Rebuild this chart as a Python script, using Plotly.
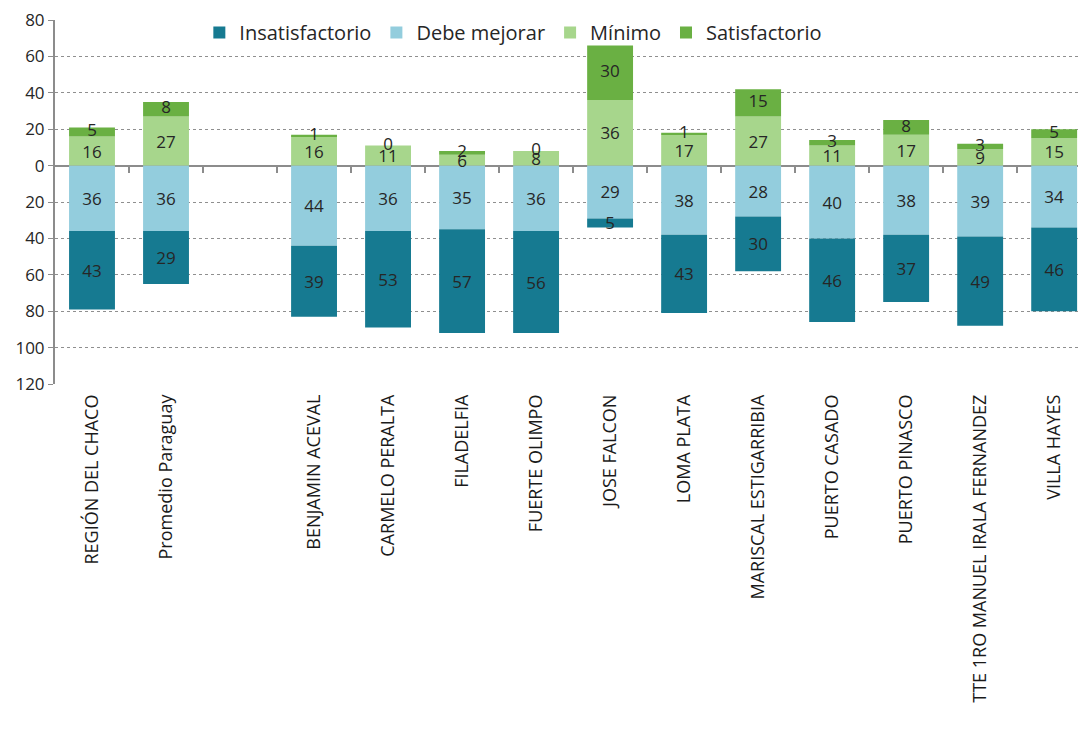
import plotly.graph_objects as go

categories = ["REGIÓN DEL CHACO", "Promedio Paraguay", " ", "BENJAMIN ACEVAL", "CARMELO PERALTA",
              "FILADELFIA", "FUERTE OLIMPO", "JOSE FALCON", "LOMA PLATA", "MARISCAL ESTIGARRIBIA",
              "PUERTO CASADO", "PUERTO PINASCO", "TTE 1RO MANUEL IRALA FERNANDEZ", "VILLA HAYES"]
insatisfactorio = [43, 29, None, 39, 53, 57, 56, 5, 43, 30, 46, 37, 49, 46]
debe_mejorar = [36, 36, None, 44, 36, 35, 36, 29, 38, 28, 40, 38, 39, 34]
minimo = [16, 27, None, 16, 11, 6, 8, 36, 17, 27, 11, 17, 9, 15]
satisfactorio = [5, 8, None, 1, 0, 2, 0, 30, 1, 15, 3, 8, 3, 5]
y_ticks = [80, 60, 40, 20, 0, -20, -40, -60, -80, -100, -120]

FONT = "Open Sans"
colors = {"Insatisfactorio": "#167A91", "Debe mejorar": "#93CDDD",
          "Mínimo": "#A7D68C", "Satisfactorio": "#6AB043"}
LABEL_FONT = dict(family=FONT, size=17, color="#262626")


def neg(v):
    return [None if x is None else -x for x in v]


def txt(v):
    return ["" if x is None else str(x) for x in v]


series = [
    ("Debe mejorar", neg(debe_mejorar), txt(debe_mejorar), 2),
    ("Insatisfactorio", neg(insatisfactorio), txt(insatisfactorio), 1),
    ("Mínimo", minimo, txt(minimo), 3),
    ("Satisfactorio", satisfactorio, None, 4),
]

fig = go.Figure()
for name, vals, labels, rank in series:
    fig.add_trace(go.Bar(
        x=categories, y=vals, name=name, text=labels,
        marker=dict(color=colors[name], line=dict(width=0)),
        textposition="inside" if labels else "none", insidetextanchor="middle",
        constraintext="none", textangle=0, cliponaxis=False,
        textfont=LABEL_FONT, legendrank=rank,
    ))

# labels of the Satisfactorio segment (also shown when the value is 0)
sat_x, sat_y, sat_t = [], [], []
for c, m, s in zip(categories, minimo, satisfactorio):
    if s is None:
        continue
    sat_x.append(c)
    sat_y.append(m + s / 2)
    sat_t.append(str(s))
fig.add_trace(go.Scatter(x=sat_x, y=sat_y, text=sat_t, mode="text", textposition="middle center",
                         textfont=LABEL_FONT, showlegend=False, hoverinfo="skip", cliponaxis=False))

fig.update_layout(
    width=1078, height=743,
    margin=dict(l=47, r=0, t=6, b=367),
    barmode="relative", bargap=0.38,
    plot_bgcolor="white", paper_bgcolor="white",
    font=dict(family=FONT, color="#404040"),
    legend=dict(orientation="h", x=0.14, y=0.966, xanchor="left", yanchor="middle",
                font=dict(family=FONT, size=20, color="#262626"),
                bgcolor="rgba(0,0,0,0)", itemwidth=30),
    xaxis=dict(type="category", range=[-0.5, 13.43], showline=False, ticks="",
               tickangle=-90, tickfont=dict(family=FONT, size=18, color="#1a1a1a"),
               showgrid=False, ticklabelstandoff=6),
    xaxis2=dict(overlaying="x", anchor="free", position=0.6, range=[-0.5, 13.43],
                tickvals=[i + 0.5 for i in range(14)], ticks="outside", ticklen=6,
                tickcolor="#8c8c8c", tickwidth=2, showticklabels=False, showline=False,
                showgrid=False, zeroline=False),
    yaxis=dict(range=[-120, 80], tickvals=y_ticks, ticktext=[str(abs(v)) for v in y_ticks],
               showline=True, linecolor="#8c8c8c", linewidth=2, ticks="outside", ticklen=5,
               tickcolor="#8c8c8c", showgrid=True, gridcolor="#8f8f8f", griddash="dot",
               gridwidth=1, zeroline=True, zerolinecolor="#8c8c8c", zerolinewidth=2,
               ticklabeloverflow="allow",
               tickfont=dict(family=FONT, size=17, color="#262626")),
)
fig.add_trace(go.Scatter(x=[0], y=[0], xaxis="x2", mode="markers", marker=dict(opacity=0),
                         showlegend=False, hoverinfo="skip"))

fig.write_html("out.html")
